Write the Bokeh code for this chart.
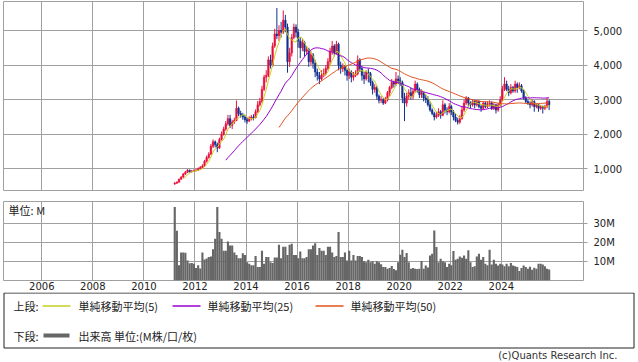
import pandas as pd
from bokeh.plotting import figure
from bokeh.layouts import column
from bokeh.models import Range1d, FixedTicker, NumeralTickFormatter, ColumnDataSource, Label
from bokeh.core.properties import value
from bokeh.embed import file_html
from bokeh.resources import INLINE

# ---------------- data (monthly, Mar 2011 - Nov 2025) ----------------
start_month = "2011-03"

open_ = [
    560, 580, 610, 700, 760, 850, 900, 960, 920, 940,
    950, 960, 1000, 1040, 1080, 1220, 1330, 1420, 1650, 1780, 1700, 1600,
    1850, 2000, 2150, 2300, 2450, 2250, 2350, 2400, 2750, 2600, 2550, 2500,
    2420, 2380, 2450, 2500, 2480, 2650, 2850, 2950, 3300, 3650, 3700, 4150,
    4000, 4550, 4900, 4850, 5000, 4950, 5300, 5100, 4100, 4350, 4800, 5100,
    4950, 4700, 4500, 4650, 4400, 4450, 4100, 4300, 4050, 3800, 3700, 3600,
    3700, 3750, 3900, 4100, 4400, 4550, 4350, 4600, 4000, 3900, 3950, 3850,
    3700, 3800, 3650, 3700, 3750, 4150, 3900, 3700, 3600, 3800, 3750, 3500,
    3300, 3350, 3100, 2980, 3000, 2900, 3000, 3200, 3350, 3500, 3450, 3600,
    3550, 3500, 3050, 2900, 3100, 3200, 3100, 3250, 3450, 3300, 3150, 3200,
    3050, 3000, 2850, 2700, 2600, 2500, 2550, 2650, 2550, 2850, 2700, 2650,
    2800, 2650, 2500, 2400, 2350, 2450, 2700, 2900, 3050, 2900, 2850, 2950,
    2850, 2950, 2800, 2750, 2900, 2800, 2850, 2900, 2750, 2850, 2700, 2850,
    3000, 3300, 3450, 3300, 3200, 3350, 3250, 3450, 3350, 3400, 3250, 3050,
    2950, 2900, 2850, 2950, 2800, 2850, 2750, 2800, 2750, 2800, 2950,
]
high = [
    620, 640, 720, 790, 880, 940, 990, 980, 970, 980,
    1000, 1040, 1080, 1130, 1260, 1380, 1480, 1720, 1850, 1820, 1760, 1900,
    2080, 2220, 2380, 2560, 2560, 2420, 2480, 2975, 2800, 2680, 2620, 2560,
    2480, 2520, 2560, 2580, 2720, 2960, 3050, 3400, 3720, 3850, 4250, 4300,
    4650, 5050, 5650, 5150, 5250, 5580, 5450, 5200, 4500, 4900, 5200, 5180,
    5050, 4800, 4750, 4700, 4550, 4500, 4400, 4350, 4150, 3900, 3800, 3850,
    3900, 4000, 4200, 4500, 4700, 4600, 4700, 4650, 4100, 4050, 4000, 3900,
    3900, 3850, 3800, 3850, 4280, 4200, 3950, 3800, 3850, 3900, 3800, 3550,
    3450, 3400, 3150, 3100, 3050, 3080, 3250, 3400, 3600, 3550, 3800, 3700,
    3650, 3550, 3200, 3200, 3300, 3350, 3300, 3550, 3500, 3350, 3300, 3250,
    3150, 3100, 2950, 2750, 2650, 2650, 2750, 2700, 2980, 2900, 2780, 2900,
    2850, 2700, 2600, 2480, 2550, 2800, 3000, 3100, 3080, 2950, 3000, 3000,
    3000, 2980, 2850, 2950, 2950, 2950, 2980, 2950, 2900, 2880, 2900, 3100,
    3400, 3650, 3550, 3400, 3450, 3400, 3550, 3500, 3500, 3450, 3300, 3100,
    3000, 2950, 3000, 2980, 2900, 2880, 2850, 2830, 2850, 3050, 3000,
]
low = [
    540, 570, 600, 680, 740, 820, 880, 890, 890, 910,
    920, 940, 980, 1010, 1050, 1180, 1290, 1400, 1600, 1620, 1480, 1580,
    1820, 1960, 2100, 2250, 2180, 2150, 2300, 2380, 2520, 2480, 2420, 2340,
    2300, 2350, 2400, 2400, 2460, 2620, 2800, 2900, 3250, 3500, 3650, 3900,
    3950, 4500, 4750, 4700, 4800, 4900, 4950, 3780, 3950, 4250, 4750, 4800,
    4500, 4200, 4400, 4250, 4300, 3950, 4000, 3900, 3650, 3550, 3450, 3550,
    3650, 3700, 3850, 4000, 4300, 4250, 4300, 3850, 3750, 3800, 3700, 3550,
    3600, 3500, 3550, 3650, 3700, 3800, 3550, 3450, 3550, 3500, 3400, 3150,
    3200, 3000, 2890, 2900, 2850, 2870, 2950, 3100, 3300, 3350, 3400, 3450,
    3400, 2900, 2380, 2800, 3000, 3000, 3000, 3200, 3200, 3050, 3050, 2950,
    2900, 2800, 2650, 2550, 2400, 2450, 2500, 2450, 2520, 2600, 2550, 2600,
    2550, 2400, 2350, 2280, 2300, 2420, 2650, 2850, 2800, 2750, 2800, 2750,
    2800, 2750, 2650, 2700, 2750, 2750, 2800, 2700, 2700, 2600, 2650, 2800,
    2950, 3250, 3250, 3100, 3150, 3200, 3200, 3200, 3300, 3200, 3000, 2900,
    2850, 2750, 2800, 2650, 2750, 2650, 2700, 2600, 2700, 2750, 2700,
]
close = [
    580, 610, 700, 760, 850, 900, 960, 920, 940, 950,
    960, 1000, 1040, 1080, 1220, 1330, 1420, 1650, 1780, 1700, 1600, 1850,
    2000, 2150, 2300, 2450, 2250, 2350, 2400, 2750, 2600, 2550, 2500, 2420,
    2380, 2450, 2500, 2480, 2650, 2850, 2950, 3300, 3650, 3700, 4150, 4000,
    4550, 4900, 4850, 5000, 4950, 5300, 5100, 4100, 4350, 4800, 5100, 4950,
    4700, 4500, 4650, 4400, 4450, 4100, 4300, 4050, 3800, 3700, 3600, 3700,
    3750, 3900, 4100, 4400, 4550, 4350, 4600, 4000, 3900, 3950, 3850, 3700,
    3800, 3650, 3700, 3750, 4150, 3900, 3700, 3600, 3800, 3750, 3500, 3300,
    3350, 3100, 2980, 3000, 2900, 3000, 3200, 3350, 3500, 3450, 3600, 3550,
    3500, 3050, 2900, 3100, 3200, 3100, 3250, 3450, 3300, 3150, 3200, 3050,
    3000, 2850, 2700, 2600, 2500, 2550, 2650, 2550, 2850, 2700, 2650, 2800,
    2650, 2500, 2400, 2350, 2450, 2700, 2900, 3050, 2900, 2850, 2950, 2850,
    2950, 2800, 2750, 2900, 2800, 2850, 2900, 2750, 2850, 2700, 2850, 3000,
    3300, 3450, 3300, 3200, 3350, 3250, 3450, 3350, 3400, 3250, 3050, 2950,
    2900, 2850, 2950, 2800, 2850, 2750, 2800, 2750, 2800, 2950, 2850,
]
# monthly volume, millions
volume = [
    38.4, 26.0, 8.0, 14.7, 14.7, 14.5, 10.5, 9.0, 9.2, 8.8,
    6.5, 8.0, 6.3, 14.7, 11.0, 11.5, 12.3, 12.5, 16.3, 21.8, 38.4, 25.3,
    21.8, 15.6, 15.6, 20.4, 18.3, 18.3, 14.7, 13.3, 11.6, 11.6, 14.2, 13.3,
    9.6, 8.8, 8.0, 8.0, 12.8, 7.1, 7.1, 15.6, 8.8, 12.3, 12.3, 9.6,
    9.2, 12.0, 12.0, 18.7, 11.6, 17.6, 17.6, 13.3, 18.7, 19.2, 13.3, 13.3,
    11.6, 15.1, 11.6, 11.6, 12.3, 16.3, 16.3, 18.3, 19.5, 13.3, 17.0, 15.6,
    15.6, 13.3, 17.6, 17.6, 14.7, 12.3, 12.8, 25.3, 12.3, 12.3, 14.7, 10.5,
    15.6, 10.5, 13.3, 10.5, 12.8, 12.8, 12.3, 10.0, 9.6, 10.9, 9.6, 10.0,
    8.8, 10.0, 9.6, 8.5, 7.0, 7.0, 6.2, 6.6, 7.6, 6.0, 5.3, 9.6,
    13.5, 16.1, 12.3, 14.4, 9.6, 6.2, 6.5, 6.2, 6.0, 6.2, 10.2, 6.2,
    7.9, 6.8, 13.1, 14.0, 26.2, 17.5, 9.6, 11.4, 10.0, 9.6, 7.0, 8.8,
    8.0, 15.4, 10.9, 11.4, 12.6, 11.9, 13.1, 11.4, 15.8, 9.6, 7.0, 7.5,
    12.6, 14.0, 10.9, 12.3, 8.8, 8.0, 16.1, 8.3, 10.9, 8.8, 7.9, 8.8,
    8.4, 7.4, 8.8, 7.4, 9.1, 7.9, 7.4, 7.0, 5.0, 6.5, 7.9, 7.0,
    6.2, 7.2, 5.6, 6.7, 6.2, 8.8, 8.8, 8.4, 7.5, 6.2, 5.8,
]

year_ticks = [2006, 2008, 2010, 2012, 2014, 2016, 2018, 2020, 2022, 2024]
price_ticks = [1000, 2000, 3000, 4000, 5000]
vol_ticks = [10, 20, 30]
vol_labels = {10: "10M", 20: "20M", 30: "30M"}

ma_periods = [5, 25, 50]
ma_colors = ["#C5D11E", "#9900CC", "#E0521E"]
UP, DOWN = "#E8103C", "#12318F"

# ---------------- derived columns ----------------
months = pd.period_range(start_month, periods=len(close), freq="M")
xs = [m.year + (m.month - 0.5) / 12 for m in months]
colors = [UP if c >= o else DOWN for o, c in zip(open_, close)]
src = ColumnDataSource(dict(
    x=xs, open=open_, close=close, high=high, low=low,
    top=[max(o, c) for o, c in zip(open_, close)],
    bottom=[min(o, c) for o, c in zip(open_, close)],
    color=colors, vol=volume,
))
cs = pd.Series(close, dtype=float)

FONT = "DejaVu Sans"
JFONT = "Noto Sans CJK JP"
GRID = "#A0A0A0"

x_range = Range1d(2004.5, 2027.22)

# ---------------- price panel ----------------
p1 = figure(width=638, height=195, x_range=x_range, y_range=Range1d(373, 5839),
            output_backend="svg", toolbar_location=None, y_axis_location="right",
            min_border_left=3, min_border_right=55, min_border_top=1, min_border_bottom=5)
p1.xaxis.visible = False
p1.xgrid.ticker = FixedTicker(ticks=year_ticks)
p1.ygrid.ticker = FixedTicker(ticks=price_ticks)
for g in (p1.xgrid, p1.ygrid):
    g.grid_line_color = GRID
    g.grid_line_width = 1
p1.outline_line_color = GRID
p1.yaxis.ticker = FixedTicker(ticks=price_ticks)
p1.yaxis.formatter = NumeralTickFormatter(format="0,0")
p1.yaxis.axis_line_color = None
p1.yaxis.major_tick_in = 0
p1.yaxis.major_tick_out = 4
p1.yaxis.major_tick_line_color = GRID
p1.yaxis.minor_tick_line_color = None
p1.yaxis.major_label_standoff = 6
p1.yaxis.major_label_text_font = FONT
p1.yaxis.major_label_text_font_size = "10px"
p1.yaxis.major_label_text_color = "#222222"

p1.segment(x0="x", x1="x", y0="low", y1="high", color="color", line_width=1, source=src)
p1.vbar(x="x", width=0.062, top="top", bottom="bottom", fill_color="color",
        line_color="color", line_width=0.5, source=src)
for n, col in zip(ma_periods, ma_colors):
    ma = cs.rolling(n).mean()
    mx = [x for x, v in zip(xs, ma) if pd.notna(v)]
    my = [v for v in ma if pd.notna(v)]
    p1.line(mx, my, color=col, line_width=1)

# ---------------- volume panel ----------------
p2 = figure(width=638, height=97, x_range=x_range, y_range=Range1d(0, 41.3),
            output_backend="svg", toolbar_location=None, y_axis_location="right",
            min_border_left=3, min_border_right=55, min_border_top=6, min_border_bottom=12)
p2.xgrid.ticker = FixedTicker(ticks=year_ticks)
p2.ygrid.ticker = FixedTicker(ticks=vol_ticks)
for g in (p2.xgrid, p2.ygrid):
    g.grid_line_color = GRID
    g.grid_line_width = 1
p2.outline_line_color = GRID
p2.yaxis.ticker = FixedTicker(ticks=vol_ticks)
p2.yaxis.major_label_overrides = vol_labels
p2.yaxis.axis_line_color = None
p2.yaxis.major_tick_in = 0
p2.yaxis.major_tick_out = 4
p2.yaxis.major_tick_line_color = GRID
p2.yaxis.minor_tick_line_color = None
p2.yaxis.major_label_standoff = 6
p2.xaxis.ticker = FixedTicker(ticks=year_ticks)
p2.xaxis.major_label_overrides = {y: str(y) for y in year_ticks}
p2.xaxis.axis_line_color = None
p2.xaxis.major_tick_line_color = None
p2.xaxis.minor_tick_line_color = None
p2.xaxis.major_tick_out = 0
p2.xaxis.major_label_standoff = 1
for ax in (p2.xaxis, p2.yaxis):
    ax.major_label_text_font = FONT
    ax.major_label_text_font_size = "10px"
    ax.major_label_text_color = "#222222"

p2.vbar(x="x", width=1 / 12, top="vol", bottom=0, fill_color="#666666",
        line_color=None, source=src)
p2.add_layout(Label(x=2004.7, y=36.6, text="単位: M", text_font=JFONT,
                    text_font_size="11px", text_baseline="middle", text_color="#222222"))

# ---------------- legend panel ----------------
p3 = figure(width=638, height=70, x_range=Range1d(0, 638), y_range=Range1d(70, 0),
            output_backend="svg", toolbar_location=None,
            x_axis_location=None, y_axis_location=None,
            min_border=0, min_border_left=0, min_border_right=0,
            min_border_top=0, min_border_bottom=0)
p3.frame_align = False
p3.xgrid.visible = False
p3.ygrid.visible = False
p3.outline_line_color = None
p3.quad(left=[3.5], right=[633.5], top=[0.5], bottom=[55.5], fill_color=None,
        line_color="#222222", line_width=1)

row1, row2 = 13, 43
p3.text(x=[13, 78, 207, 350], y=[row1] * 4,
        text=["上段:", "単純移動平均(5)", "単純移動平均(25)", "単純移動平均(50)"],
        text_font=value(JFONT), text_font_size="11px", text_baseline="middle",
        text_color="#222222")
p3.segment(x0=[42, 172, 315], x1=[70, 200, 343], y0=[row1 + 0.5] * 3, y1=[row1 + 0.5] * 3,
           line_color=ma_colors, line_width=1.3)
p3.text(x=[13, 78], y=[row2] * 2, text=["下段:", "出来高 単位:(M株/口/枚)"],
        text_font=value(JFONT), text_font_size="11px", text_baseline="middle",
        text_color="#222222")
p3.segment(x0=[43], x1=[69], y0=[row2], y1=[row2], line_color="#666666", line_width=4)
p3.text(x=[617], y=[63], text=["(c)Quants Research Inc."], text_font=value(FONT),
        text_font_size="10px", text_baseline="middle", text_align="right",
        text_color="#333333")

layout = column(p1, p2, p3, spacing=0)
open("out.html", "w").write(file_html(layout, INLINE))
